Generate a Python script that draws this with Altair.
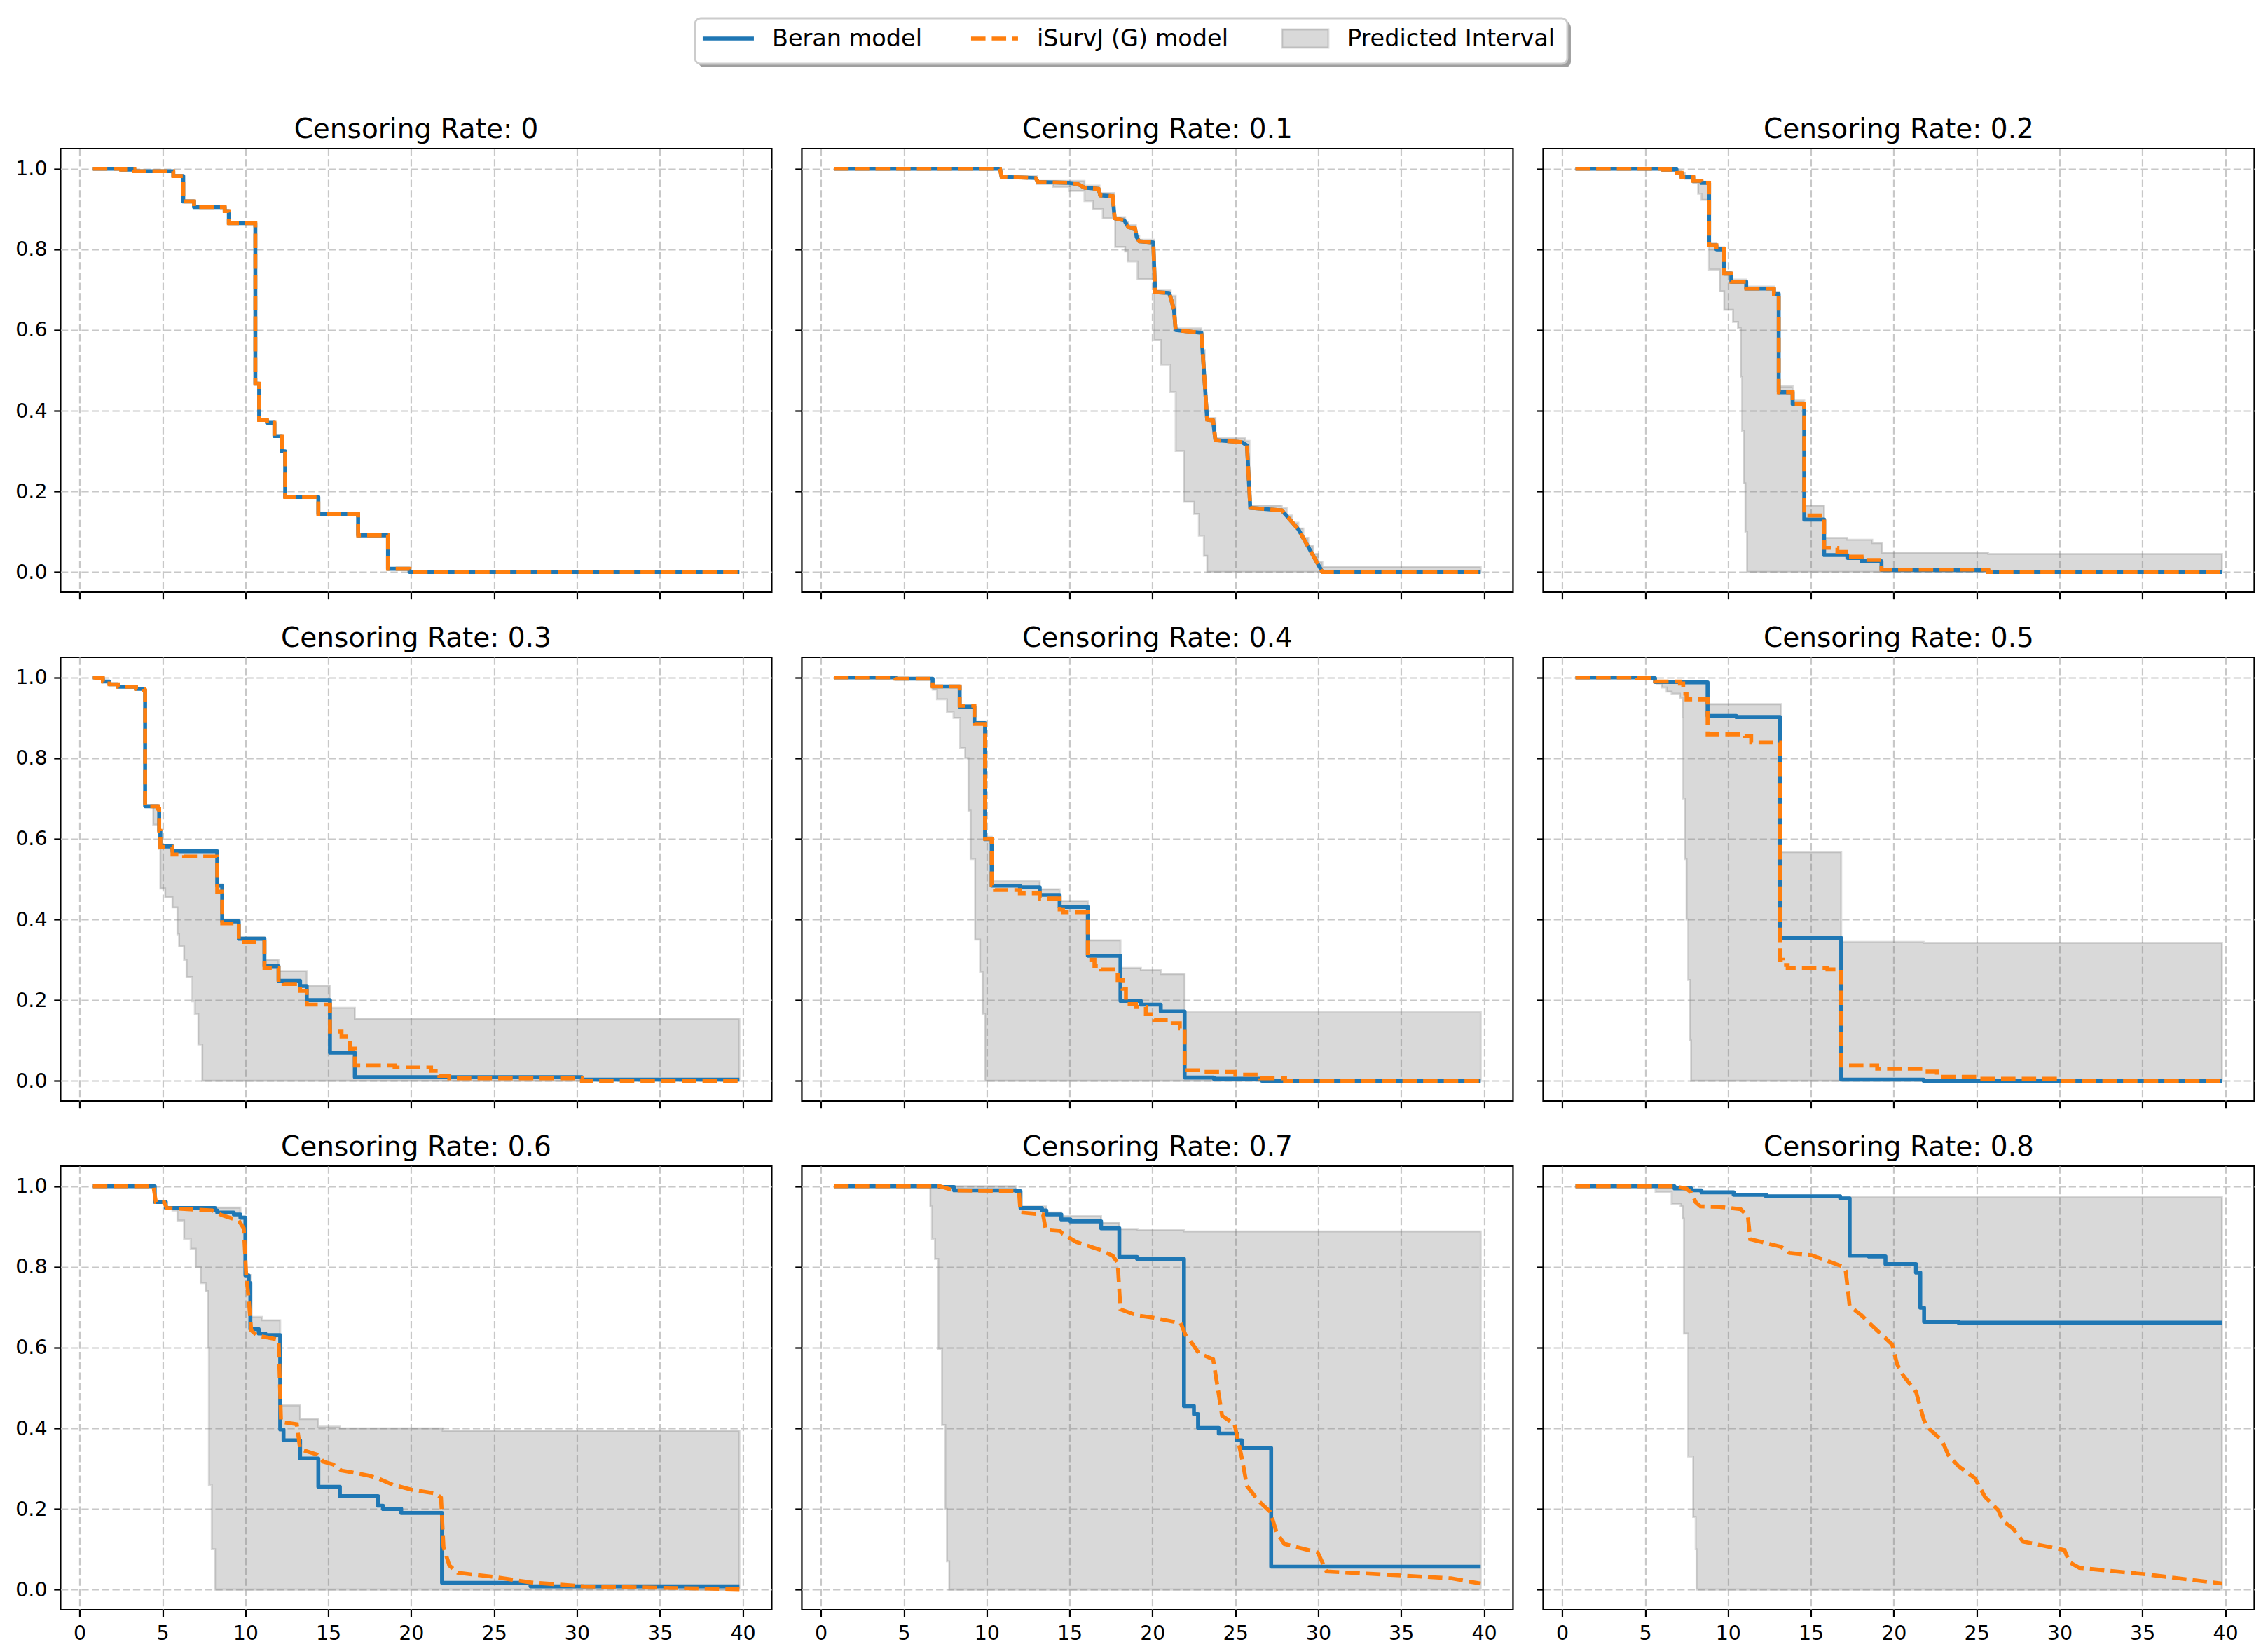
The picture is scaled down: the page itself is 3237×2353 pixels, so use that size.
import altair as alt
import pandas as pd

BLUE = "#1f77b4"
ORANGE = "#ff7f0e"
FONT = "DejaVu Sans"

X_TICKS = [0, 5, 10, 15, 20, 25, 30, 35, 40]
Y_TICKS = [0.0, 0.2, 0.4, 0.6, 0.8, 1.0]
LEGEND_LABELS = ["Beran model", "iSurvJ (G) model", "Predicted Interval"]

# (time, survival)
CR0_CURVE = [(0.8, 1.0), (2.5, 0.998), (3.3, 0.994), (5.65, 0.982), (6.25, 0.919), (6.9, 0.905),
             (8.75, 0.895), (9.0, 0.865), (10.6, 0.467), (10.83, 0.377), (11.3, 0.37), (11.75, 0.337),
             (12.2, 0.299), (12.4, 0.186), (14.4, 0.144), (16.8, 0.091), (18.6, 0.008), (19.9, 0.0),
             (39.8, 0.0)]

CR01_CURVE = [(0.8, 1.0), (10.8, 1.0), (10.9, 0.98), (12.95, 0.977), (13.1, 0.967), (15.0, 0.965),
              (15.5, 0.962), (15.9, 0.953), (16.75, 0.95), (16.85, 0.934), (17.6, 0.932), (17.72, 0.877),
              (18.3, 0.872), (18.4, 0.865), (18.55, 0.855), (18.95, 0.852), (19.05, 0.83), (19.2, 0.82),
              (20.05, 0.817), (20.16, 0.694), (21.0, 0.692), (21.1, 0.68), (21.3, 0.65), (21.4, 0.6),
              (22.95, 0.593), (23.3, 0.378), (23.65, 0.376), (23.8, 0.327), (25.4, 0.322), (25.7, 0.314),
              (25.9, 0.159), (27.8, 0.153), (28.8, 0.106), (30.25, 0.0), (39.8, 0.0)]
CR01_LOWER = [(0.8, 1.0), (10.84, 0.978), (13.05, 0.962), (14.0, 0.955), (15.0, 0.945), (15.9, 0.92),
              (16.4, 0.9), (17.0, 0.877), (17.75, 0.806), (18.35, 0.795), (18.5, 0.77), (19.1, 0.726),
              (20.1, 0.575), (20.5, 0.514), (21.07, 0.446), (21.4, 0.30), (21.9, 0.174), (22.5, 0.144),
              (22.8, 0.09), (23.1, 0.04), (23.3, 0.0), (39.8, 0.0)]
CR01_UPPER = [(0.8, 1.0), (10.84, 0.982), (13.05, 0.97), (15.9, 0.958), (16.8, 0.94), (17.7, 0.88),
              (18.35, 0.868), (18.55, 0.86), (19.0, 0.834), (19.2, 0.824), (20.1, 0.698), (21.1, 0.685),
              (21.4, 0.604), (22.95, 0.598), (23.05, 0.55), (23.15, 0.47), (23.25, 0.4), (23.35, 0.382),
              (23.8, 0.332), (25.6, 0.325), (25.85, 0.165), (27.8, 0.158), (28.1, 0.14), (28.4, 0.122),
              (28.8, 0.108), (29.1, 0.085), (29.4, 0.065), (29.7, 0.045), (30.0, 0.025), (30.25, 0.013),
              (39.8, 0.012)]

CR02_BERAN = [(0.8, 1.0), (6.06, 0.998), (6.9, 0.99), (7.2, 0.98), (7.9, 0.97), (8.4, 0.965), (8.86, 0.81),
              (9.3, 0.80), (9.77, 0.74), (10.2, 0.72), (11.1, 0.703), (12.77, 0.69), (13.06, 0.446),
              (13.9, 0.416), (14.6, 0.13), (15.8, 0.042), (17.2, 0.035), (18.06, 0.027), (19.26, 0.005),
              (25.7, 0.0), (39.8, 0.0)]
CR02_ISURV = [(0.8, 1.0), (6.06, 0.998), (6.9, 0.99), (7.2, 0.98), (7.9, 0.97), (8.4, 0.965), (8.86, 0.81),
              (9.3, 0.80), (9.77, 0.74), (10.2, 0.72), (11.1, 0.703), (12.77, 0.69), (13.06, 0.446),
              (13.9, 0.416), (14.6, 0.14), (15.8, 0.06), (16.6, 0.05), (17.3, 0.038), (18.06, 0.03),
              (19.26, 0.006), (25.7, 0.0), (39.8, 0.0)]
CR02_LOWER = [(0.8, 1.0), (6.9, 0.99), (7.4, 0.975), (7.9, 0.964), (8.2, 0.938), (8.4, 0.923), (8.86, 0.75),
              (9.5, 0.696), (9.77, 0.65), (10.3, 0.62), (10.6, 0.605), (10.77, 0.484), (10.85, 0.35),
              (10.95, 0.22), (11.05, 0.1), (11.15, 0.0), (39.8, 0.0)]
CR02_UPPER = [(0.8, 1.0), (6.06, 0.999), (6.9, 0.992), (7.2, 0.982), (7.9, 0.973), (8.4, 0.968),
              (8.86, 0.815), (9.3, 0.805), (9.77, 0.745), (10.2, 0.725), (11.1, 0.708), (12.77, 0.695),
              (13.06, 0.46), (13.9, 0.425), (14.6, 0.165), (15.8, 0.085), (17.2, 0.08), (18.7, 0.072),
              (19.3, 0.048), (25.7, 0.045), (39.8, 0.045)]

CR03_BERAN = [(0.8, 1.0), (1.0, 0.998), (1.4, 0.99), (1.8, 0.983), (2.3, 0.977), (3.4, 0.972), (3.87, 0.968),
              (3.95, 0.681), (4.73, 0.675), (4.8, 0.62), (4.87, 0.581), (5.6, 0.569), (8.3, 0.484),
              (8.6, 0.395), (9.6, 0.352), (11.15, 0.284), (12.0, 0.248), (13.3, 0.235), (13.7, 0.2),
              (15.1, 0.07), (16.6, 0.009), (30.3, 0.003), (39.8, 0.003)]
CR03_ISURV = [(0.8, 1.0), (1.0, 0.998), (1.4, 0.99), (1.8, 0.983), (2.3, 0.977), (3.4, 0.972), (3.87, 0.968),
              (3.95, 0.681), (4.73, 0.675), (4.8, 0.62), (4.87, 0.58), (5.6, 0.561), (6.3, 0.556),
              (8.3, 0.469), (8.6, 0.39), (9.6, 0.344), (11.15, 0.28), (12.0, 0.245), (12.3, 0.24),
              (13.3, 0.223), (13.7, 0.189), (15.1, 0.122), (15.8, 0.11), (16.3, 0.08), (16.6, 0.038),
              (19.0, 0.033), (21.2, 0.025), (21.7, 0.012), (22.3, 0.006), (30.3, 0.0), (39.8, 0.0)]
CR03_LOWER = [(0.8, 1.0), (1.0, 0.998), (1.4, 0.99), (1.8, 0.983), (2.3, 0.977), (3.4, 0.972), (3.87, 0.968),
              (3.95, 0.681), (4.44, 0.635), (4.8, 0.575), (4.87, 0.477), (5.16, 0.455), (5.6, 0.43),
              (5.9, 0.363), (6.0, 0.333), (6.3, 0.3), (6.45, 0.257), (6.8, 0.197), (6.95, 0.166),
              (7.16, 0.09), (7.4, 0.0), (39.8, 0.0)]
CR03_UPPER = [(0.8, 1.0), (1.0, 0.998), (1.4, 0.99), (1.8, 0.983), (2.3, 0.977), (3.4, 0.972), (3.87, 0.968),
              (3.95, 0.683), (4.73, 0.678), (4.8, 0.625), (4.87, 0.585), (5.6, 0.572), (8.3, 0.487),
              (8.6, 0.40), (9.6, 0.356), (11.15, 0.30), (12.0, 0.272), (13.7, 0.236), (15.1, 0.181),
              (16.6, 0.154), (39.8, 0.152)]

CR04_BERAN = [(0.8, 1.0), (4.5, 0.997), (6.74, 0.978), (8.37, 0.928), (9.26, 0.887), (9.9, 0.599),
              (10.3, 0.484), (12.0, 0.48), (13.2, 0.461), (14.4, 0.431), (16.1, 0.31), (18.07, 0.198),
              (19.3, 0.189), (20.5, 0.172), (21.94, 0.008), (23.7, 0.005), (26.6, 0.0), (39.8, 0.0)]
CR04_ISURV = [(0.8, 1.0), (4.5, 0.997), (6.74, 0.978), (8.37, 0.93), (9.26, 0.885), (9.9, 0.6),
              (10.3, 0.485), (10.5, 0.473), (12.0, 0.465), (13.2, 0.452), (14.4, 0.425), (14.6, 0.418),
              (16.1, 0.30), (16.5, 0.285), (16.9, 0.276), (17.9, 0.25), (18.2, 0.228), (18.4, 0.19),
              (19.0, 0.183), (19.6, 0.165), (20.1, 0.15), (20.8, 0.143), (21.65, 0.13), (21.94, 0.026),
              (23.0, 0.022), (25.0, 0.015), (26.5, 0.006), (28.0, 0.0), (39.8, 0.0)]
CR04_LOWER = [(0.8, 1.0), (4.5, 0.997), (6.74, 0.97), (7.0, 0.946), (7.6, 0.915), (8.0, 0.9), (8.4, 0.825),
              (8.7, 0.8), (8.9, 0.67), (9.03, 0.55), (9.3, 0.35), (9.6, 0.27), (9.75, 0.166), (9.9, 0.0),
              (39.8, 0.0)]
CR04_UPPER = [(0.8, 1.0), (4.5, 0.998), (6.74, 0.98), (8.37, 0.932), (9.26, 0.89), (9.9, 0.605),
              (10.3, 0.495), (13.2, 0.475), (14.4, 0.446), (16.1, 0.348), (18.07, 0.28), (19.3, 0.275),
              (20.5, 0.265), (21.94, 0.17), (39.8, 0.167)]

CR05_BERAN = [(0.8, 1.0), (4.5, 0.998), (5.6, 0.989), (7.34, 0.988), (8.77, 0.905), (10.5, 0.902),
              (13.14, 0.354), (16.83, 0.003), (21.8, 0.0), (39.8, 0.0)]
CR05_ISURV = [(0.8, 1.0), (4.5, 0.998), (5.6, 0.99), (7.1, 0.985), (7.3, 0.96), (7.5, 0.946), (8.77, 0.859),
              (11.0, 0.855), (11.4, 0.839), (13.14, 0.30), (13.3, 0.287), (13.6, 0.28), (16.0, 0.276),
              (16.83, 0.038), (19.0, 0.03), (21.6, 0.023), (22.6, 0.01), (25.0, 0.005), (30.0, 0.0),
              (39.8, 0.0)]
CR05_LOWER = [(0.8, 1.0), (4.5, 0.998), (5.6, 0.99), (5.7, 0.985), (6.0, 0.975), (6.3, 0.965), (6.6, 0.96),
              (7.1, 0.95), (7.26, 0.9), (7.3, 0.7), (7.4, 0.55), (7.5, 0.4), (7.6, 0.25), (7.7, 0.1),
              (7.77, 0.0), (39.8, 0.0)]
CR05_UPPER = [(0.8, 1.0), (4.5, 0.999), (5.6, 0.992), (8.77, 0.934), (13.2, 0.567), (16.83, 0.344),
              (21.8, 0.342), (39.8, 0.342)]

CR06_BERAN = [(0.8, 1.0), (4.53, 0.961), (5.2, 0.946), (8.17, 0.94), (8.3, 0.935), (9.3, 0.93), (9.7, 0.922),
              (10.0, 0.779), (10.2, 0.76), (10.3, 0.646), (10.8, 0.635), (11.2, 0.631), (12.1, 0.397),
              (12.3, 0.37), (13.3, 0.325), (14.4, 0.255), (15.7, 0.232), (18.0, 0.208), (18.3, 0.2),
              (19.4, 0.19), (21.86, 0.017), (27.2, 0.008), (39.8, 0.008)]
CR06_ISURV = [(0.8, 1.0), (4.45, 1.0), (4.6, 0.961), (5.1, 0.961), (5.25, 0.946), (8.0, 0.94), (8.6, 0.928),
              (9.6, 0.915), (9.9, 0.896), (10.05, 0.78), (10.2, 0.72), (10.35, 0.643), (10.7, 0.63),
              (12.0, 0.62), (12.15, 0.416), (13.1, 0.41), (13.3, 0.348), (14.3, 0.335), (14.7, 0.317),
              (15.3, 0.31), (15.8, 0.295), (16.5, 0.29), (17.5, 0.282), (18.0, 0.276), (18.9, 0.26),
              (20.0, 0.248), (21.5, 0.238), (21.8, 0.228), (21.95, 0.106), (22.3, 0.06), (22.8, 0.042),
              (24.9, 0.032), (27.2, 0.018), (30.4, 0.008), (39.8, 0.001)]
CR06_LOWER = [(0.8, 1.0), (4.53, 0.961), (5.2, 0.946), (5.6, 0.94), (5.9, 0.915), (6.3, 0.87), (6.7, 0.845),
              (7.0, 0.8), (7.3, 0.76), (7.6, 0.74), (7.74, 0.6), (7.8, 0.26), (7.97, 0.1), (8.17, 0.0),
              (39.8, 0.0)]
CR06_UPPER = [(0.8, 1.0), (4.53, 0.961), (5.2, 0.947), (9.7, 0.925), (10.0, 0.78), (10.3, 0.676),
              (11.0, 0.668), (12.1, 0.457), (13.3, 0.423), (14.4, 0.404), (15.7, 0.4), (21.9, 0.394),
              (39.8, 0.393)]

CR07_BERAN = [(0.8, 1.0), (7.17, 0.998), (8.03, 0.99), (11.76, 0.988), (12.04, 0.946), (13.33, 0.94),
              (13.6, 0.93), (14.5, 0.918), (15.05, 0.913), (16.9, 0.896), (18.0, 0.825), (19.07, 0.82),
              (21.9, 0.455), (22.5, 0.435), (22.75, 0.401), (24.0, 0.387), (25.1, 0.37), (25.4, 0.351),
              (27.16, 0.057), (39.8, 0.057)]
CR07_ISURV = [(0.8, 1.0), (7.2, 1.0), (8.0, 0.99), (11.76, 0.988), (11.95, 0.985), (12.04, 0.935),
              (13.4, 0.93), (13.56, 0.893), (14.4, 0.89), (14.6, 0.882), (15.4, 0.862), (15.9, 0.855),
              (16.8, 0.843), (17.6, 0.828), (17.9, 0.81), (18.07, 0.695), (19.07, 0.68), (19.93, 0.675),
              (21.7, 0.661), (22.0, 0.631), (22.4, 0.61), (22.8, 0.586), (23.66, 0.571), (24.0, 0.484),
              (24.2, 0.431), (24.95, 0.41), (25.4, 0.325), (25.7, 0.257), (26.4, 0.22), (27.1, 0.193),
              (27.5, 0.14), (27.96, 0.113), (29.97, 0.092), (30.5, 0.045), (35.1, 0.035), (38.0, 0.028),
              (39.8, 0.015)]
CR07_LOWER = [(0.8, 1.0), (6.6, 0.95), (6.7, 0.87), (6.88, 0.82), (7.08, 0.597), (7.3, 0.408), (7.5, 0.2),
              (7.6, 0.07), (7.74, 0.0), (39.8, 0.0)]
CR07_UPPER = [(0.8, 1.0), (11.76, 0.99), (12.04, 0.95), (13.6, 0.935), (14.5, 0.926), (16.9, 0.91),
              (18.0, 0.894), (19.1, 0.892), (21.9, 0.888), (39.8, 0.888)]

CR08_BERAN = [(0.8, 1.0), (6.77, 0.995), (7.77, 0.99), (8.4, 0.985), (10.34, 0.979), (12.3, 0.975),
              (16.77, 0.97), (17.34, 0.828), (18.5, 0.826), (19.5, 0.807), (21.34, 0.786), (21.6, 0.699),
              (21.83, 0.664), (23.9, 0.662), (39.8, 0.662)]
CR08_ISURV = [(0.8, 1.0), (6.77, 1.0), (7.5, 0.994), (7.77, 0.985), (8.06, 0.96), (8.34, 0.95), (9.5, 0.949),
              (10.77, 0.943), (11.2, 0.925), (11.34, 0.869), (13.2, 0.85), (13.7, 0.835), (15.06, 0.829),
              (16.0, 0.815), (16.9, 0.801), (17.1, 0.79), (17.34, 0.703), (18.06, 0.68), (18.6, 0.658),
              (19.9, 0.608), (20.2, 0.559), (20.6, 0.529), (21.34, 0.491), (21.8, 0.423), (22.0, 0.404),
              (22.9, 0.37), (23.3, 0.333), (23.9, 0.306), (24.9, 0.276), (25.5, 0.23), (26.3, 0.197),
              (26.6, 0.17), (27.2, 0.151), (27.8, 0.119), (30.3, 0.098), (30.6, 0.068), (31.2, 0.054),
              (35.2, 0.038), (39.8, 0.015)]
CR08_LOWER = [(0.8, 1.0), (4.5, 0.998), (5.63, 0.986), (6.6, 0.956), (7.14, 0.95), (7.26, 0.92),
              (7.34, 0.635), (7.6, 0.33), (7.9, 0.18), (8.05, 0.1), (8.1, 0.0), (39.8, 0.0)]
CR08_UPPER = [(0.8, 1.0), (6.77, 0.996), (7.77, 0.992), (8.4, 0.987), (10.34, 0.981), (12.3, 0.977),
              (16.77, 0.973), (39.8, 0.972)]

STEP, LIN = "step-after", "linear"
PANELS = [
    ("0", CR0_CURVE, STEP, CR0_CURVE, STEP, CR0_CURVE, CR0_CURVE),
    ("0.1", CR01_CURVE, LIN, CR01_CURVE, LIN, CR01_LOWER, CR01_UPPER),
    ("0.2", CR02_BERAN, STEP, CR02_ISURV, STEP, CR02_LOWER, CR02_UPPER),
    ("0.3", CR03_BERAN, STEP, CR03_ISURV, STEP, CR03_LOWER, CR03_UPPER),
    ("0.4", CR04_BERAN, STEP, CR04_ISURV, STEP, CR04_LOWER, CR04_UPPER),
    ("0.5", CR05_BERAN, STEP, CR05_ISURV, STEP, CR05_LOWER, CR05_UPPER),
    ("0.6", CR06_BERAN, STEP, CR06_ISURV, LIN, CR06_LOWER, CR06_UPPER),
    ("0.7", CR07_BERAN, STEP, CR07_ISURV, LIN, CR07_LOWER, CR07_UPPER),
    ("0.8", CR08_BERAN, STEP, CR08_ISURV, LIN, CR08_LOWER, CR08_UPPER),
]

W, H = 1015, 633
X_SCALE = alt.Scale(domain=[-1.15, 41.75], nice=False, zero=False)
Y_SCALE = alt.Scale(domain=[-0.05, 1.05], nice=False, zero=False)


def step_at(points, t):
    v = points[0][1]
    for pt, pv in points:
        if pt <= t:
            v = pv
        else:
            break
    return v


def band(lower, upper):
    ts = sorted({t for t, _ in lower} | {t for t, _ in upper})
    return pd.DataFrame({
        "t": ts,
        "lo": [step_at(lower, t) for t in ts],
        "hi": [step_at(upper, t) for t in ts],
    })


def panel(i):
    rate, beran, beran_mode, isurv, isurv_mode, lower, upper = PANELS[i]
    row, col = divmod(i, 3)
    x_axis = alt.Axis(values=X_TICKS, labels=row == 2, labelFlush=False)
    y_axis = alt.Axis(values=Y_TICKS, labels=col == 0, format=".1f")
    x = alt.X("t:Q", scale=X_SCALE, axis=x_axis, title=None)

    area = alt.Chart(band(lower, upper)).mark_area(
        interpolate="step-after", fill="gray", fillOpacity=0.3,
        stroke="gray", strokeOpacity=0.3, strokeWidth=2.8,
    ).encode(x=x, y=alt.Y("lo:Q", scale=Y_SCALE, axis=y_axis, title=None), y2="hi:Q")

    line_b = alt.Chart(pd.DataFrame(beran, columns=["t", "s"])).mark_line(
        interpolate=beran_mode, color=BLUE, strokeWidth=5.6, strokeJoin="round",
    ).encode(x=x, y=alt.Y("s:Q", scale=Y_SCALE, axis=y_axis, title=None))

    line_i = alt.Chart(pd.DataFrame(isurv, columns=["t", "s"])).mark_line(
        interpolate=isurv_mode, color=ORANGE, strokeWidth=5.6, strokeDash=[20.6, 8.9],
    ).encode(x=x, y=alt.Y("s:Q", scale=Y_SCALE, axis=y_axis, title=None))

    return alt.layer(area, line_b, line_i).properties(
        width=W, height=H,
        title=alt.TitleParams(
            f"Censoring Rate: {rate}", fontSize=39, font=FONT, fontWeight="normal",
            color="black", anchor="middle", baseline="alphabetic", offset=-24,
        ),
    )


def legend_chart():
    one = pd.DataFrame({"k": [0]})
    lw, lh = 1245, 65
    cy = 29
    shadow = alt.Chart(one).mark_rect(fill="#9f9f9f", cornerRadius=8).encode(
        x=alt.value(5), x2=alt.value(lw + 5), y=alt.value(5), y2=alt.value(lh + 5))
    box = alt.Chart(one).mark_rect(fill="white", stroke="#cccccc", strokeWidth=2.8, cornerRadius=8).encode(
        x=alt.value(0), x2=alt.value(lw), y=alt.value(0), y2=alt.value(lh))
    h_beran = alt.Chart(one).mark_rule(color=BLUE, strokeWidth=5.6).encode(
        x=alt.value(11), x2=alt.value(84), y=alt.value(cy))
    h_isurv = alt.Chart(one).mark_rule(color=ORANGE, strokeWidth=5.6, strokeDash=[20.6, 8.9]).encode(
        x=alt.value(394), x2=alt.value(461), y=alt.value(cy))
    h_band = alt.Chart(one).mark_rect(
        fill="gray", fillOpacity=0.3, stroke="gray", strokeOpacity=0.3, strokeWidth=2.8).encode(
        x=alt.value(838), x2=alt.value(904), y=alt.value(cy - 13), y2=alt.value(cy + 13))
    texts = [
        alt.Chart(one).mark_text(align="left", baseline="middle", font=FONT, fontSize=33.5,
                                 color="black").encode(
            x=alt.value(tx), y=alt.value(cy + 1), text=alt.value(label))
        for tx, label in zip([110, 488, 931], LEGEND_LABELS)
    ]
    # extra blank width on the right shifts the centred box to where the reference has it
    return alt.layer(shadow, box, h_beran, h_isurv, h_band, *texts).properties(
        width=lw + 75, height=lh, view=alt.ViewBackground(stroke="transparent"))


rows = [alt.hconcat(*[panel(3 * r + c) for c in range(3)], spacing=29) for r in range(3)]
grid = alt.vconcat(*rows, spacing=33)

chart = (
    alt.vconcat(legend_chart(), grid, spacing=66, center=True)
    .properties(padding={"left": 12, "top": 15, "right": 5, "bottom": 0})
    .configure_view(stroke="black", strokeWidth=2.2)
    .configure_axis(
        labelFont=FONT, labelFontSize=28.5, labelColor="black", labelPadding=9.7,
        tickColor="black", tickSize=9.7, tickWidth=2.2, domain=False,
        gridColor="#c8c8c8", gridDash=[10.3, 4.4], gridWidth=2.2,
    )
)

chart.save("out.html", embed_options={"renderer": "svg", "actions": False})
